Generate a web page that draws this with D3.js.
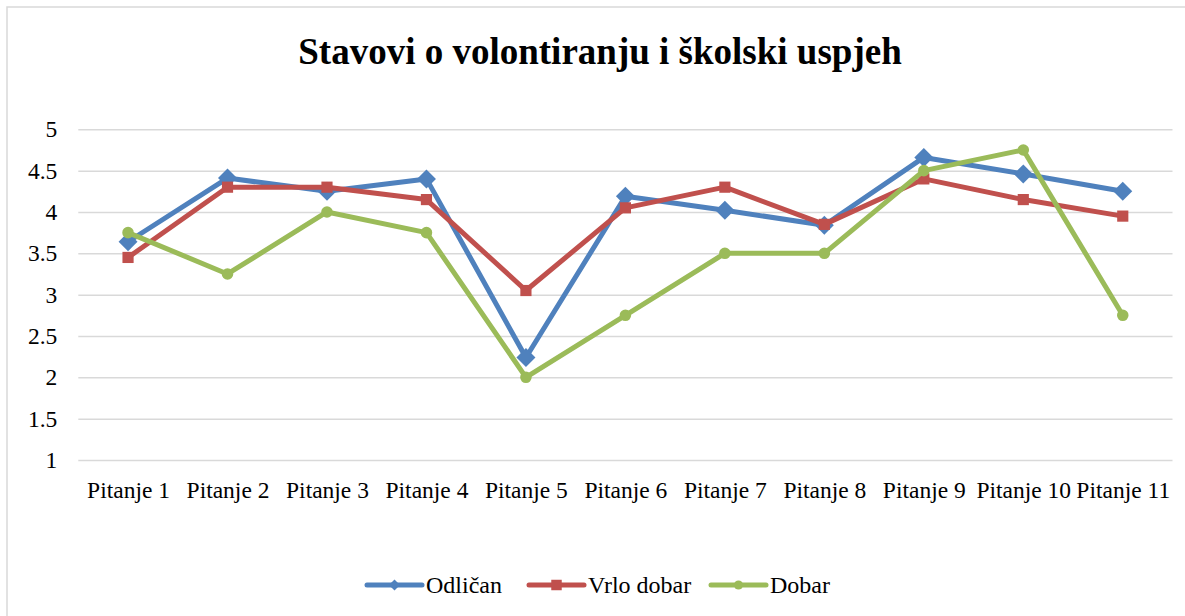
<!DOCTYPE html>
<html>
<head>
<meta charset="utf-8">
<script src="https://cdn.jsdelivr.net/npm/d3@7"></script>
<style>
  body { margin: 0; background: #fff; }
  svg text { font-family: 'Liberation Serif', 'Times New Roman', serif; fill: #000; }
</style>
</head>
<body>
<div id="the_chart"></div>
<script>
var categories = ["Pitanje 1", "Pitanje 2", "Pitanje 3", "Pitanje 4", "Pitanje 5", "Pitanje 6",
    "Pitanje 7", "Pitanje 8", "Pitanje 9", "Pitanje 10", "Pitanje 11"];
var seriesNames = ["Odličan", "Vrlo dobar", "Dobar"];
var odlican = [3.64, 4.41, 4.25, 4.40, 2.24, 4.19, 4.02, 3.84, 4.66, 4.46, 4.25];
var vrloDobar = [3.45, 4.30, 4.30, 4.15, 3.05, 4.05, 4.30, 3.85, 4.40, 4.15, 3.95];
var dobar = [3.75, 3.25, 4.00, 3.75, 2.00, 2.75, 3.50, 3.50, 4.50, 4.75, 2.75];
var yTicks = [1, 1.5, 2, 2.5, 3, 3.5, 4, 4.5, 5];
var title = "Stavovi o volontiranju i školski uspjeh";

var w = 1185;
var h = 616;
var serif = "'Liberation Serif', 'Times New Roman', serif";

var svg = d3.select("#the_chart")
    .append("svg")
    .attr("width", w)
    .attr("height", h)
    .attr("font-family", serif);

// chart frame (runs off the right and bottom edges)
svg.append("rect")
    .attr("x", 7).attr("y", 7)
    .attr("width", w + 20).attr("height", h + 20)
    .attr("fill", "none")
    .attr("stroke", "#d9d9d9")
    .attr("stroke-width", 1.5);

svg.append("text")
    .attr("x", 600).attr("y", 64)
    .attr("text-anchor", "middle")
    .attr("font-family", serif)
    .attr("font-size", 37)
    .attr("font-weight", "bold")
    .text(title);

var x = d3.scalePoint()
    .domain(categories)
    .range([78.3, 1172.5])
    .padding(0.5);

var y = d3.scaleLinear()
    .domain([1, 5])
    .range([460, 129.3]);

// gridlines + y labels
var yAxis = svg.append("g")
    .attr("transform", "translate(78.3,0)")
    .call(d3.axisLeft(y).tickValues(yTicks).tickSize(-(1172.5 - 78.3)).tickPadding(21).tickFormat(d3.format("")))
    .attr("font-family", serif)
    .attr("font-size", 23.5);
yAxis.select(".domain").remove();
yAxis.selectAll("line").attr("stroke", "#d9d9d9").attr("stroke-width", 1.5);
yAxis.selectAll("text").attr("fill", "#000").attr("font-family", serif);

// x labels
var xAxis = svg.append("g")
    .attr("transform", "translate(0,460)")
    .call(d3.axisBottom(x).tickSize(0).tickPadding(21))
    .attr("font-family", serif)
    .attr("font-size", 23.5);
xAxis.select(".domain").remove();
xAxis.selectAll("text").attr("fill", "#000").attr("font-family", serif);

var series = [
    { name: seriesNames[0], values: odlican, color: "#4f81bd", shape: "diamond" },
    { name: seriesNames[1], values: vrloDobar, color: "#c0504d", shape: "square" },
    { name: seriesNames[2], values: dobar, color: "#9bbb59", shape: "circle" }
];

function markerPath(shape, big) {
    if (shape == "diamond") return d3.symbol().type(d3.symbolSquare).size(big ? 180 : 62)();
    if (shape == "square") return d3.symbol().type(d3.symbolSquare).size(big ? 125 : 110)();
    return d3.symbol().type(d3.symbolCircle).size(big ? 105 : 66)();
}

var line = d3.line()
    .x(function (d, i) { return x(categories[i]); })
    .y(function (d) { return y(d); });

series.forEach(function (s) {
    var g = svg.append("g");
    g.append("path")
        .attr("d", line(s.values))
        .attr("fill", "none")
        .attr("stroke", s.color)
        .attr("stroke-width", 5)
        .attr("stroke-linejoin", "round")
        .attr("stroke-linecap", "round");
    g.selectAll("path.m")
        .data(s.values)
        .enter()
        .append("path")
        .attr("class", "m")
        .attr("d", markerPath(s.shape, true))
        .attr("fill", s.color)
        .attr("transform", function (d, i) {
            return "translate(" + x(categories[i]) + "," + y(d) + ")" + (s.shape == "diamond" ? " rotate(45)" : "");
        });
});

// legend
var legendX = [367, 529, 711];
var legendY = 585;
var leg = svg.selectAll("g.legend")
    .data(series)
    .enter()
    .append("g")
    .attr("class", "legend")
    .attr("transform", function (d, i) { return "translate(" + legendX[i] + "," + legendY + ")"; });
leg.append("line")
    .attr("x1", 0).attr("x2", 55)
    .attr("stroke", function (d) { return d.color; })
    .attr("stroke-width", 5)
    .attr("stroke-linecap", "round");
leg.append("path")
    .attr("d", function (d) { return markerPath(d.shape, false); })
    .attr("fill", function (d) { return d.color; })
    .attr("transform", function (d) { return "translate(27.5,0)" + (d.shape == "diamond" ? " rotate(45)" : ""); });
leg.append("text")
    .attr("x", 59)
    .attr("dy", "0.35em")
    .attr("font-family", serif)
    .attr("font-size", 24)
    .text(function (d) { return d.name; });
</script>
</body>
</html>
